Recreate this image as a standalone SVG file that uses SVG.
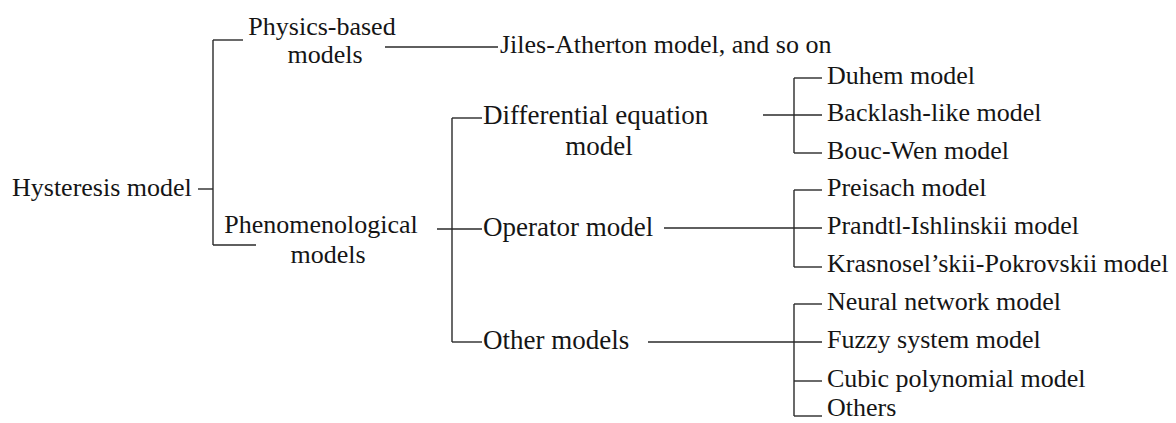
<svg xmlns="http://www.w3.org/2000/svg" width="1176" height="423" viewBox="0 0 1176 423">
<style>
text{font-family:"Liberation Serif","Times New Roman",serif;font-size:26px;fill:#151515}
.m{text-anchor:middle}
.w{font-size:27px}
#connectors line{stroke:#2a2a2a;stroke-width:1.4;fill:none}
</style>
<rect width="1176" height="423" fill="#ffffff"/>
<g id="connectors">
<line x1="198" y1="189" x2="213" y2="189"/>
<line x1="213" y1="40" x2="213" y2="245"/>
<line x1="213" y1="40" x2="243" y2="40"/>
<line x1="213" y1="245" x2="256" y2="245"/>
<line x1="385" y1="47" x2="498" y2="47"/>
<line x1="437" y1="229" x2="482" y2="229"/>
<line x1="452" y1="118" x2="452" y2="342"/>
<line x1="452" y1="118" x2="482" y2="118"/>
<line x1="452" y1="342" x2="482" y2="342"/>
<line x1="763" y1="115" x2="822" y2="115"/>
<line x1="794" y1="78" x2="794" y2="153"/>
<line x1="794" y1="78" x2="822" y2="78"/>
<line x1="794" y1="153" x2="822" y2="153"/>
<line x1="664" y1="228" x2="822" y2="228"/>
<line x1="794" y1="190" x2="794" y2="267"/>
<line x1="794" y1="190" x2="822" y2="190"/>
<line x1="794" y1="267" x2="822" y2="267"/>
<line x1="648" y1="342" x2="822" y2="342"/>
<line x1="794" y1="304" x2="794" y2="416"/>
<line x1="794" y1="304" x2="822" y2="304"/>
<line x1="794" y1="381" x2="822" y2="381"/>
<line x1="794" y1="416" x2="822" y2="416"/>
</g>
<g id="hysteresis"><text x="12" y="196">Hysteresis model</text></g>
<g id="physics"><text class="m" x="322" y="35">Physics-based</text><text class="m" x="325" y="63">models</text></g>
<g id="jiles"><text x="500" y="53">Jiles-Atherton model, and so on</text></g>
<g id="phenomenological"><text class="m" x="321" y="233">Phenomenological</text><text class="m" x="328" y="263">models</text></g>
<g id="differential"><text class="w" x="483" y="124">Differential equation</text><text class="m w" x="599" y="155">model</text></g>
<g id="operator"><text class="w" x="483" y="236">Operator model</text></g>
<g id="other"><text class="w" x="483" y="349">Other models</text></g>
<g id="duhem"><text x="827" y="84">Duhem model</text></g>
<g id="backlash"><text x="827" y="121">Backlash-like model</text></g>
<g id="boucwen"><text x="827" y="159">Bouc-Wen model</text></g>
<g id="preisach"><text x="827" y="196">Preisach model</text></g>
<g id="prandtl"><text x="827" y="234">Prandtl-Ishlinskii model</text></g>
<g id="krasnoselskii"><text x="827" y="272">Krasnosel’skii-Pokrovskii model</text></g>
<g id="neural"><text x="827" y="310">Neural network model</text></g>
<g id="fuzzy"><text x="827" y="348">Fuzzy system model</text></g>
<g id="cubic"><text x="827" y="387">Cubic polynomial model</text></g>
<g id="others"><text x="827" y="416">Others</text></g>
</svg>
